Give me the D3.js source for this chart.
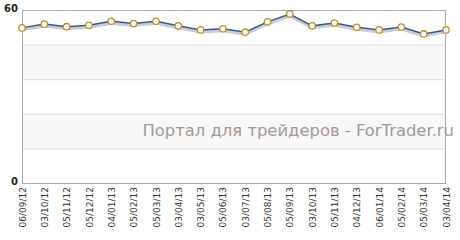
<!DOCTYPE html>
<html>
<head>
<meta charset="utf-8">
<script src="https://cdn.jsdelivr.net/npm/d3@7"></script>
<style>
  body { margin: 0; background: #fff; }
  svg { display: block; }
</style>
</head>
<body>
<div id="container"></div>
<script>
const w = 460;
const h = 240;
const p = {top: 10, right: 14, bottom: 57, left: 22};

const dates = ['06/09/12', '03/10/12', '05/11/12', '05/12/12', '04/01/13', '05/02/13', '05/03/13',
  '03/04/13', '03/05/13', '05/06/13', '03/07/13', '05/08/13', '05/09/13', '03/10/13',
  '05/11/13', '04/12/13', '06/01/14', '05/02/14', '05/03/14', '03/04/14'];
const values = [53.8, 55.1, 54.2, 54.7, 56.1, 55.3, 56.1, 54.5, 53.1, 53.5,
  52.3, 55.9, 58.6, 54.5, 55.5, 54.0, 53.1, 54.1, 51.7, 53.1];
const yTicks = [0, 60];
const bands = [12, 24, 36, 48];
const watermark = 'Портал для трейдеров - ForTrader.ru';

const svg = d3.select('#container')
  .append('svg')
  .attr('width', w)
  .attr('height', h);

const x = d3.scalePoint()
  .domain(dates)
  .range([p.left, w - p.right]);
const y = d3.scaleLinear()
  .domain([0, 60])
  .range([h - p.bottom, p.top]);

// alternating bands
svg.selectAll('rect.band')
  .data([[36, 48], [12, 24]])
  .enter()
  .append('rect')
  .attr('x', p.left)
  .attr('y', d => y(d[1]))
  .attr('width', w - p.right - p.left)
  .attr('height', d => y(d[0]) - y(d[1]))
  .attr('fill', '#f8f8f8');

svg.selectAll('line.grid')
  .data(bands)
  .enter()
  .append('line')
  .attr('x1', p.left)
  .attr('x2', w - p.right)
  .attr('y1', d => y(d) + 0.5)
  .attr('y2', d => y(d) + 0.5)
  .attr('stroke', '#dcdcdc');

// frame
svg.append('rect')
  .attr('x', p.left + 0.5)
  .attr('y', p.top + 0.5)
  .attr('width', w - p.right - p.left - 1)
  .attr('height', h - p.bottom - p.top)
  .attr('fill', 'none')
  .attr('stroke', '#aaa');

svg.append('text')
  .attr('x', w - p.right + 8)
  .attr('y', 136)
  .attr('text-anchor', 'end')
  .attr('font-family', 'DejaVu Sans')
  .attr('font-size', 16.4)
  .attr('fill', '#a39995')
  .text(watermark);

const yAxis = d3.axisLeft(y)
  .tickValues(yTicks)
  .tickSize(0)
  .tickPadding(4);
svg.append('g')
  .attr('transform', 'translate(' + p.left + ',0)')
  .call(yAxis)
  .call(g => g.select('.domain').remove())
  .selectAll('text')
  .attr('font-family', 'DejaVu Sans')
  .attr('font-size', 10)
  .attr('font-weight', 'bold')
  .attr('fill', '#222')
  .attr('dy', '0.1em');

const xAxis = d3.axisBottom(x)
  .tickSize(0)
  .tickPadding(0);
svg.append('g')
  .attr('transform', 'translate(0,' + (h - p.bottom) + ')')
  .call(xAxis)
  .call(g => g.select('.domain').remove())
  .selectAll('text')
  .attr('font-family', 'DejaVu Sans')
  .attr('font-size', 9)
  .attr('fill', '#333')
  .attr('text-anchor', 'end')
  .attr('transform', 'rotate(-90)')
  .attr('x', -4)
  .attr('y', 0)
  .attr('dy', '0.35em');

const line = d3.line()
  .x((d, i) => x(dates[i]))
  .y(d => y(d));

svg.append('path')
  .datum(values)
  .attr('d', line)
  .attr('transform', 'translate(0,2)')
  .attr('fill', 'none')
  .attr('stroke', '#ccc')
  .attr('stroke-width', 3);

svg.append('path')
  .datum(values)
  .attr('d', line)
  .attr('fill', 'none')
  .attr('stroke', '#2a5b99')
  .attr('stroke-width', 1.5);

svg.selectAll('circle')
  .data(values)
  .enter()
  .append('circle')
  .attr('cx', (d, i) => x(dates[i]))
  .attr('cy', d => y(d))
  .attr('r', 3.2)
  .attr('fill', '#fff')
  .attr('stroke', '#c98a1e')
  .attr('stroke-width', 1.3);
</script>
</body>
</html>
